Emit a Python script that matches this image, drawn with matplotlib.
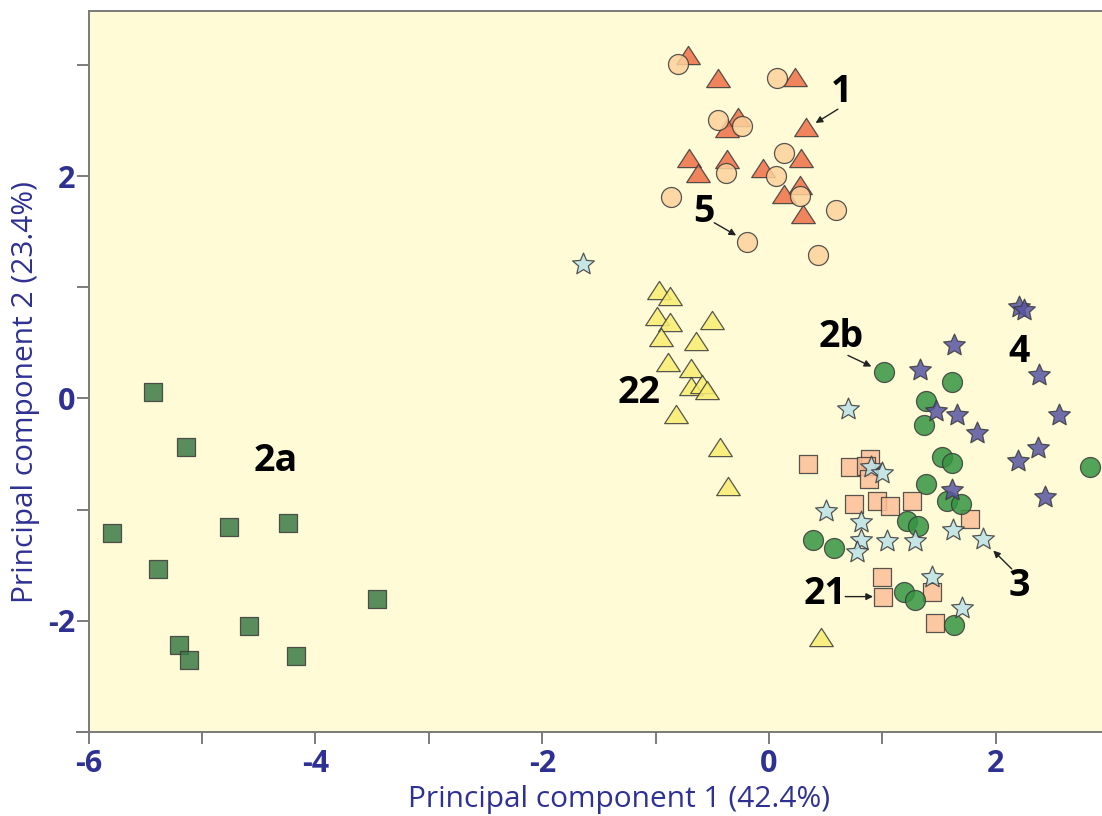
import numpy as np
import matplotlib
matplotlib.use('Agg')
import matplotlib.pyplot as plt
from matplotlib.path import Path
from matplotlib.lines import Line2D

plt.rcParams['axes.unicode_minus'] = False

# group 1: orange triangles
g1_x = [-0.712, -0.447, 0.231, -0.276, -0.370, 0.328, -0.703, -0.370, -0.629, -0.055, 0.284, 0.277, 0.136, 0.299]
g1_y = [3.09, 2.886, 2.89, 2.53, 2.43, 2.44, 2.166, 2.157, 2.03, 2.077, 2.166, 1.917, 1.842, 1.662]

# group 5: peach circles
g5_x = [-0.800, 0.069, -0.452, -0.238, 0.131, -0.379, 0.065, 0.275, -0.865, 0.587, -0.196, 0.431]
g5_y = [3.012, 2.886, 2.508, 2.448, 2.208, 2.028, 2.001, 1.821, 1.812, 1.692, 1.407, 1.287]

# group 22: yellow triangles
g22_x = [-0.968, -0.874, -0.991, -0.871, -0.503, -0.953, -0.644, -0.894, -0.688, -0.688, -0.594, -0.550, -0.821, -0.429, -0.364, 0.461]
g22_y = [0.972, 0.918, 0.738, 0.684, 0.708, 0.552, 0.513, 0.327, 0.273, 0.114, 0.126, 0.078, -0.138, -0.438, -0.783, -2.148]

# group 4: dark blue stars
g4_x = [2.203, 2.251, 1.632, 1.335, 2.380, 1.476, 1.659, 2.557, 1.830, 2.369, 2.192, 1.609, 2.433]
g4_y = [0.822, 0.798, 0.477, 0.258, 0.207, -0.114, -0.153, -0.153, -0.312, -0.444, -0.558, -0.819, -0.882]

# group 2b: green circles
g2b_x = [1.014, 1.609, 1.388, 1.367, 1.529, 1.617, 2.831, 1.388, 1.571, 1.691, 1.220, 1.314, 0.387, 0.572, 1.187, 1.285, 1.632]
g2b_y = [0.237, 0.147, -0.027, -0.234, -0.522, -0.579, -0.612, -0.768, -0.924, -0.948, -1.098, -1.143, -1.269, -1.344, -1.743, -1.812, -2.034]

# group 3: light blue stars
g3_x = [-1.645, 0.696, 0.896, 0.996, 0.499, 0.808, 0.808, 1.043, 1.285, 0.778, 1.624, 1.889, 1.441, 1.697]
g3_y = [1.212, -0.099, -0.618, -0.672, -1.008, -1.113, -1.269, -1.278, -1.278, -1.377, -1.182, -1.263, -1.602, -1.884]

# group 21: peach squares
g21_x = [0.343, 0.711, 0.893, 0.858, 0.878, 0.749, 0.952, 1.070, 1.264, 1.771, 0.996, 1.008, 1.441, 1.467]
g21_y = [-0.588, -0.618, -0.543, -0.603, -0.723, -0.948, -0.924, -0.963, -0.924, -1.083, -1.608, -1.782, -1.743, -2.022]

# group 2a: dark green squares
g2a_x = [-5.435, -5.143, -5.791, -4.767, -4.242, -5.390, -3.462, -4.584, -5.208, -5.114, -4.171]
g2a_y = [0.057, -0.432, -1.209, -1.158, -1.122, -1.533, -1.803, -2.043, -2.217, -2.349, -2.319]

# group labels: text, text position, arrow start and tip (None = no arrow)
labels = ['1', '5', '2b', '4', '22', '21', '3', '2a']
label_xy = [(0.643, 2.757), (-0.571, 1.677), (0.637, 0.552), (2.203, 0.417),
            (-1.145, 0.048), (0.489, -1.758), (2.203, -1.683), (-4.354, -0.558)]
arrow_from = [(0.607, 2.602), (-0.484, 1.581), (0.696, 0.387), None,
              None, (0.672, -1.782), (2.140, -1.533), None]
arrow_to = [(0.410, 2.478), (-0.290, 1.467), (0.902, 0.288), None,
            None, (0.917, -1.782), (1.977, -1.368), None]

tri = Path([(0, 0.77), (-1, -0.77), (1, -0.77), (0, 0.77)],
           [Path.MOVETO, Path.LINETO, Path.LINETO, Path.CLOSEPOLY])
star_fat = Path.unit_regular_star(5, 0.47)
star_thin = Path.unit_regular_star(5, 0.45)

navy = '#2e3192'
edge = '#3a3a3a'

fig = plt.figure(figsize=(11.02, 8.16), dpi=100)
ax = fig.add_axes([0.0805, 0.1029, 0.9195, 0.8836])
ax.set_facecolor('#fffbd7')
ax.set_xlim(-6, 2.936)
ax.set_ylim(-3.0, 3.485)

kw = dict(edgecolors=edge, linewidths=0.9, alpha=0.85)
ax.scatter(g2a_x, g2a_y, marker='s', s=156, c='#3d7a47', **kw)
ax.scatter(g21_x, g21_y, marker='s', s=156, c='#fcbf98', **kw)
ax.scatter(g2b_x, g2b_y, marker='o', s=207, c='#359442', **kw)
ax.scatter(g3_x, g3_y, marker=star_thin, s=270, c='#bce2e8', **kw)
ax.scatter(g4_x, g4_y, marker=star_fat, s=270, c='#5654a2', **kw)
ax.scatter(g22_x, g22_y, marker=tri, s=290, c='#f9ee72', **kw)
ax.scatter(g1_x, g1_y, marker=tri, s=290, c='#ee6f48', **kw)
ax.scatter(g5_x, g5_y, marker='o', s=207, c='#fdd29c', **kw)

for txt, pos, a0, a1 in zip(labels, label_xy, arrow_from, arrow_to):
    ax.text(pos[0], pos[1], txt, fontsize=27, fontweight='bold', family='Open Sans',
            ha='center', va='center', color='black')
    if a1 is not None:
        ax.annotate('', xy=a1, xytext=a0,
                    arrowprops=dict(arrowstyle='-|>', lw=1.0, color='#222222',
                                    mutation_scale=10, shrinkA=0, shrinkB=0))

# axes styling
for side in ['left', 'bottom', 'top']:
    ax.spines[side].set_color('#7a7a7a')
    ax.spines[side].set_linewidth(1.4)
ax.spines['right'].set_visible(False)

ax.set_xticks([-6, -4, -2, 0, 2])
ax.set_xticks([-5, -3, -1, 1], minor=True)
ax.set_yticks([-2, 0, 2])
ax.set_yticks([-3, -1, 1, 3], minor=True)
ax.tick_params(which='both', direction='out', length=8.5, width=1.2, color='#666666')
ax.tick_params(axis='x', which='major', pad=4)
ax.tick_params(axis='y', which='major', pad=1)
for lab in ax.get_xticklabels() + ax.get_yticklabels():
    lab.set_family('Open Sans')
    lab.set_fontweight('bold')
    lab.set_fontsize(22)
    lab.set_color(navy)

ax.set_xlabel('Principal component 1 (42.4%)', fontsize=21.5, family='Open Sans', color=navy)
ax.set_ylabel('Principal component 2 (23.4%)', fontsize=21.5, family='Open Sans', color=navy)
ax.xaxis.set_label_coords(0.523, -0.074)
ax.yaxis.set_label_coords(-0.048, 0.4716)

# bottom axis line runs a little past the left spine
ax.add_line(Line2D([-0.012, 0], [0, 0], transform=ax.transAxes, color='#7a7a7a',
                   lw=1.4, clip_on=False))

fig.savefig('out.png', dpi=100)
